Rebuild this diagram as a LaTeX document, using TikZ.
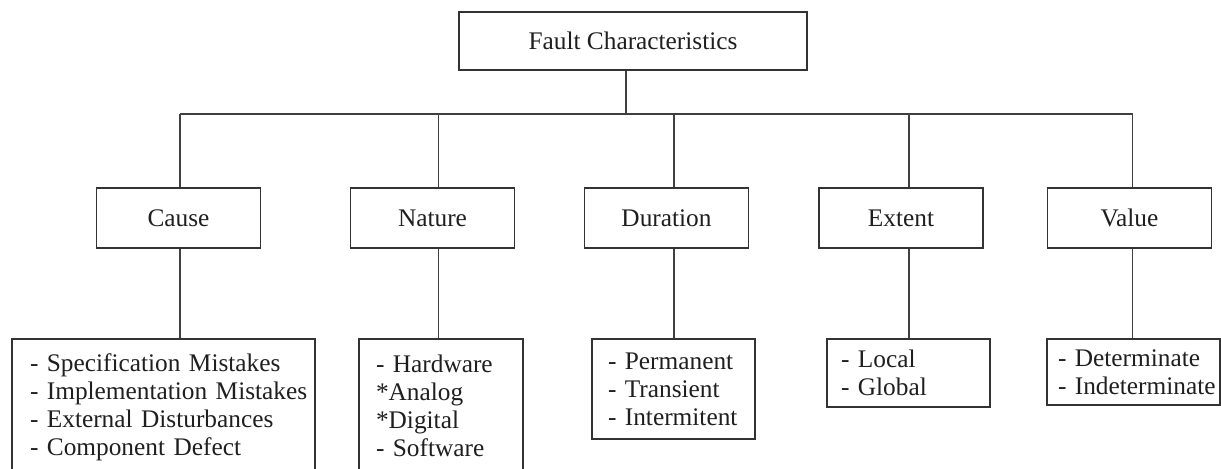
\documentclass[tikz,border=0pt]{standalone}
\usepackage{fontspec}
\setmainfont{Liberation Serif}
\newcommand\entry[1]{\mbox{#1}}
\begin{document}
\begin{tikzpicture}[x=0.75pt,y=-0.75pt,
  line/.style={draw=black!75, line width=0.9pt},
  boxed/.style={draw=black!80, line width=0.9pt, text=black!88,
    font=\fontsize{19}{21}\selectfont},
  head/.style={boxed, minimum width=261pt, minimum height=43.5pt},
  cat/.style={boxed, minimum width=123pt, minimum height=45pt},
  list/.style={boxed, align=left, inner ysep=2pt}]
\useasboundingbox (0,0) rectangle (1221,468);

% root
\node[head] (top) at (633,41) {Fault Characteristics};

% categories
\node[cat] (cause)    at (178.5,218) {Cause};
\node[cat] (nature)   at (432.5,218) {Nature};
\node[cat] (duration) at (666.5,218) {Duration};
\node[cat] (extent)   at (901,218)   {Extent};
\node[cat] (value)    at (1129.5,218){Value};

% lists
\node[list, minimum width=227.25pt, minimum height=102.75pt, inner xsep=13.5pt, text width=200.25pt]
  (causeL) at (163.5,407.5)
  {\entry{- Specification Mistakes}\\\entry{- Implementation Mistakes}\\\entry{- External Disturbances}\\\entry{- Component Defect}};
\node[list, minimum width=123pt, minimum height=99.75pt, inner xsep=12.75pt, text width=97.5pt]
  (natureL) at (441,405.5)
  {\entry{- Hardware}\\\entry{*Analog}\\\entry{*Digital}\\\entry{- Software}};
\node[list, minimum width=122.25pt, minimum height=75pt, inner xsep=12pt, text width=98.25pt]
  (durationL) at (673.5,389)
  {\entry{- Permanent}\\\entry{- Transient}\\\entry{- Intermitent}};
\node[list, minimum width=122.25pt, minimum height=51pt, inner xsep=10.5pt, text width=101.25pt]
  (extentL) at (908.5,373)
  {\entry{- Local}\\\entry{- Global}};
\node[list, minimum width=129.75pt, minimum height=49.5pt, inner xsep=8.25pt, text width=113.25pt]
  (valueL) at (1133.5,372)
  {\entry{- Determinate}\\\entry{- Indeterminate}};

% bus and drop points
\coordinate (hub) at (626,114);
\coordinate (jC) at (180,114);
\coordinate (jN) at (438.5,114);
\coordinate (jD) at (674,114);
\coordinate (jE) at (909,114);
\coordinate (jV) at (1132.5,114);

\draw[line] (top.south -| hub) -- (hub);
\draw[line] (jC) -- (jV);

\foreach \j/\c in {jC/cause, jN/nature, jD/duration, jE/extent, jV/value}{
  \draw[line] (\j) -- (\j |- \c.north);
  \draw[line] (\c.south -| \j) -- (\c L.north -| \j);
}
\end{tikzpicture}
\end{document}
